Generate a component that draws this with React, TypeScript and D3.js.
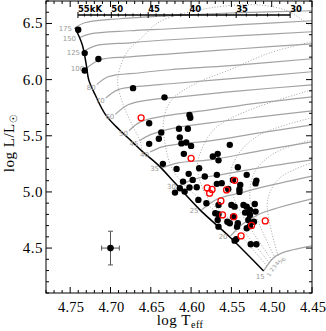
import * as d3 from "d3";

const WIDTH = 326;
const HEIGHT = 331;
const MARGIN = { top: 1, right: 14, bottom: 38, left: 46 };

const X_DOMAIN: [number, number] = [4.78, 4.45];
const Y_DOMAIN: [number, number] = [4.1, 6.7];
const X_TICK_LABELS = [4.75, 4.7, 4.65, 4.6, 4.55, 4.5, 4.45];
const Y_TICK_LABELS = [4.5, 5.0, 5.5, 6.0, 6.5];
const TEFF_KK_LABELS = [55, 50, 45, 40, 35, 30];

// zero-age main sequence (log Teff, log L)
const ZAMS: [number, number][] = [
  [4.744, 6.462], [4.735, 6.31], [4.73, 6.132], [4.727, 5.998], [4.719, 5.865],
  [4.706, 5.686], [4.689, 5.553], [4.673, 5.446], [4.66, 5.357], [4.641, 5.241],
  [4.619, 5.072], [4.589, 4.84], [4.552, 4.599], [4.51, 4.296],
];

const TRACK_MASSES = ["175", "150", "125", "100", "80", "70", "60", "50", "45", "40", "35", "30", "25", "20", "15"];
const TRACKS: [number, number][][] = [
  [[4.744, 6.462], [4.732, 6.506], [4.688, 6.542], [4.626, 6.569], [4.539, 6.596], [4.45, 6.613]],
  [[4.739, 6.373], [4.725, 6.408], [4.676, 6.435], [4.626, 6.453], [4.539, 6.489], [4.45, 6.524]],
  [[4.734, 6.248], [4.719, 6.301], [4.676, 6.328], [4.626, 6.355], [4.539, 6.391], [4.45, 6.426]],
  [[4.729, 6.105], [4.713, 6.177], [4.676, 6.203], [4.626, 6.23], [4.539, 6.275], [4.45, 6.319]],
  [[4.717, 5.955], [4.703, 6.025], [4.663, 6.061], [4.626, 6.088], [4.539, 6.132], [4.45, 6.186]],
  [[4.706, 5.835], [4.691, 5.909], [4.657, 5.945], [4.626, 5.963], [4.539, 6.016], [4.45, 6.07]],
  [[4.694, 5.69], [4.678, 5.776], [4.651, 5.82], [4.614, 5.847], [4.539, 5.9], [4.45, 5.954]],
  [[4.677, 5.545], [4.663, 5.624], [4.639, 5.669], [4.577, 5.731], [4.515, 5.793], [4.45, 5.847]],
  [[4.664, 5.455], [4.651, 5.508], [4.626, 5.562], [4.577, 5.615], [4.515, 5.669], [4.45, 5.722]],
  [[4.651, 5.355], [4.636, 5.401], [4.614, 5.428], [4.577, 5.455], [4.515, 5.526], [4.45, 5.597]],
  [[4.636, 5.214], [4.616, 5.259], [4.577, 5.285], [4.515, 5.366], [4.45, 5.446]],
  [[4.615, 5.054], [4.595, 5.116], [4.564, 5.152], [4.515, 5.214], [4.45, 5.285]],
  [[4.587, 4.84], [4.567, 4.938], [4.539, 4.991], [4.515, 5.036], [4.45, 5.14]],
  [[4.551, 4.608], [4.536, 4.715], [4.515, 4.804], [4.45, 4.938]],
  [[4.51, 4.296], [4.498, 4.412], [4.487, 4.457], [4.45, 4.519]],
];

const ISOCHRONE_AGES = ["1", "2", "3", "4", "5", "6"];
const ISOCHRONES: [number, number][][] = [
  [[4.51, 4.296], [4.552, 4.599], [4.589, 4.84], [4.619, 5.072], [4.641, 5.241], [4.66, 5.357],
    [4.663, 5.45], [4.672, 5.58], [4.685, 5.793], [4.691, 5.998], [4.68, 6.239], [4.66, 6.382],
    [4.639, 6.515], [4.589, 6.622], [4.527, 6.667], [4.484, 6.622], [4.45, 6.471]],
  [[4.506, 4.341], [4.544, 4.653], [4.579, 4.884], [4.606, 5.045], [4.624, 5.214], [4.632, 5.419],
    [4.634, 5.642], [4.624, 5.82], [4.595, 5.963], [4.552, 6.088], [4.502, 6.239], [4.45, 6.337]],
  [[4.503, 4.367], [4.539, 4.679], [4.57, 4.866], [4.585, 5.018], [4.592, 5.241], [4.583, 5.437],
    [4.568, 5.58], [4.527, 5.731], [4.45, 5.909]],
  [[4.5, 4.394], [4.529, 4.706], [4.546, 4.929], [4.552, 5.125], [4.542, 5.33], [4.515, 5.508], [4.45, 5.66]],
  [[4.496, 4.412], [4.515, 4.706], [4.527, 4.947], [4.521, 5.178], [4.496, 5.348], [4.45, 5.464]],
  [[4.492, 4.43], [4.502, 4.706], [4.505, 4.929], [4.49, 5.125], [4.45, 5.259]],
];

const STARS: [number, number][] = [
  [4.74, 6.444], [4.732, 6.236], [4.715, 6.183], [4.732, 6.081], [4.672, 5.924], [4.633, 5.842],
  [4.652, 5.612], [4.637, 5.529], [4.64, 5.473], [4.652, 5.428], [4.635, 5.25], [4.602, 5.686],
  [4.601, 5.66], [4.615, 5.562], [4.604, 5.562], [4.614, 5.486], [4.612, 5.432], [4.606, 5.44],
  [4.6, 5.41], [4.552, 5.419], [4.609, 5.339], [4.573, 5.315], [4.567, 5.339], [4.566, 5.281],
  [4.618, 5.205], [4.59, 5.211], [4.542, 5.22], [4.531, 5.152], [4.519, 5.101], [4.52, 5.076],
  [4.548, 5.107], [4.598, 5.107], [4.61, 5.092], [4.602, 5.039], [4.614, 5.033], [4.608, 5.003],
  [4.62, 4.994], [4.593, 5.042], [4.591, 4.929], [4.568, 5.072], [4.562, 5.078], [4.539, 5.063],
  [4.54, 5.024], [4.54, 5.0], [4.554, 5.027], [4.566, 4.884], [4.55, 4.884], [4.546, 4.869],
  [4.535, 4.884], [4.531, 4.869], [4.521, 4.893], [4.527, 4.84], [4.533, 4.816], [4.527, 4.795],
  [4.52, 4.825], [4.529, 4.751], [4.57, 4.81], [4.566, 4.801], [4.567, 4.751], [4.566, 4.691],
  [4.555, 4.735], [4.552, 4.721], [4.548, 4.78], [4.543, 4.691], [4.542, 4.721], [4.531, 4.677],
  [4.527, 4.697], [4.522, 4.735], [4.544, 4.579], [4.546, 4.566], [4.526, 4.534], [4.519, 4.534],
  [4.583, 5.137], [4.568, 5.152], [4.581, 4.899], [4.603, 5.161],
];

const STARS_RED: [number, number][] = [
  [4.662, 5.66], [4.6, 5.299], [4.546, 5.103], [4.58, 5.036], [4.574, 5.022], [4.577, 4.989],
  [4.556, 5.018], [4.563, 4.92], [4.561, 4.795], [4.547, 4.78], [4.525, 4.702], [4.508, 4.742],
  [4.538, 4.608],
];

const ERR_POINT: [number, number] = [4.7, 4.5];
const ERR_T = 0.011;
const ERR_L = 0.15;

const SERIF = "'Liberation Serif', 'Times New Roman', serif";
const SANS = "'DejaVu Sans', sans-serif";
const TRACK_COLOR = "#a3a3a3";

export default function App() {
  const x = d3.scaleLinear().domain(X_DOMAIN).range([MARGIN.left, WIDTH - MARGIN.right]);
  const y = d3.scaleLinear().domain(Y_DOMAIN).range([HEIGHT - MARGIN.bottom, MARGIN.top]);
  const line = d3
    .line<[number, number]>()
    .x((d) => x(d[0]))
    .y((d) => y(d[1]))
    .curve(d3.curveCatmullRom.alpha(0.5));

  const x0 = MARGIN.left;
  const x1 = WIDTH - MARGIN.right;
  const y0 = HEIGHT - MARGIN.bottom;
  const y1 = MARGIN.top;

  const xMinor = d3.range(445, 479).map((v) => ({ v: v / 100, major: v % 5 === 0 }));
  const yMinor = d3.range(41, 68).map((v) => ({ v: v / 10, major: v % 5 === 0 }));

  // secondary Teff axis in kK
  const kkY = 15;
  const kk = d3.range(30, 56).map((k) => ({ k, px: x(Math.log10(k * 1000)), major: k % 5 === 0 }));

  const [ex, ey] = ERR_POINT;

  return (
    <div style={{ position: "absolute", left: 0, top: 0 }}>
      <svg width={WIDTH} height={HEIGHT} style={{ display: "block", background: "#fff" }}>
        <defs>
          <clipPath id="plot">
            <rect x={x0} y={y1} width={x1 - x0} height={y0 - y1} />
          </clipPath>
        </defs>

        <g clipPath="url(#plot)">
          {ISOCHRONES.map((iso, i) => (
            <path key={"iso" + i} d={line(iso)!} fill="none" stroke="#9a9a9a" strokeWidth={0.9} strokeDasharray="1 1.8" />
          ))}
          {TRACKS.map((tr, i) => (
            <path key={"tr" + i} d={line(tr)!} fill="none" stroke={TRACK_COLOR} strokeWidth={1.2} />
          ))}
          <path d={line(ZAMS)!} fill="none" stroke="#000" strokeWidth={1.5} />
        </g>

        {TRACK_MASSES.map((m, i) => {
          const s = TRACKS[i][0];
          const last = i === TRACK_MASSES.length - 1;
          const inner = i >= 4 && i <= 9;
          return (
            <text
              key={"tl" + m}
              x={x(s[0]) - (last ? -1 : inner ? 1 : 3)}
              y={y(s[1]) + (last ? 8 : inner ? 5 : 3)}
              textAnchor="end"
              fontFamily={SANS}
              fontSize={7}
              fill="#999"
            >
              {m}
            </text>
          );
        })}

        {ISOCHRONE_AGES.map((a, i) => {
          const b = ISOCHRONES[i][0];
          return (
            <text
              key={"ia" + a}
              transform={`translate(${x(b[0]) + 6},${y(b[1]) + 6}) rotate(-60)`}
              fontFamily={SANS}
              fontSize={5.5}
              fill="#999"
            >
              {a}
            </text>
          );
        })}

        {STARS.map((d, i) => (
          <circle key={"s" + i} cx={x(d[0])} cy={y(d[1])} r={3.2} fill="#000" />
        ))}
        {STARS_RED.map((d, i) => (
          <circle key={"r" + i} cx={x(d[0])} cy={y(d[1])} r={3} fill="none" stroke="#ff0000" strokeWidth={1.3} />
        ))}

        {/* typical error bar */}
        <g stroke="#555" strokeWidth={1}>
          <line x1={x(ex + ERR_T)} x2={x(ex - ERR_T)} y1={y(ey)} y2={y(ey)} />
          <line x1={x(ex)} x2={x(ex)} y1={y(ey - ERR_L)} y2={y(ey + ERR_L)} />
          <line x1={x(ex) - 2.5} x2={x(ex) + 2.5} y1={y(ey - ERR_L)} y2={y(ey - ERR_L)} />
          <line x1={x(ex) - 2.5} x2={x(ex) + 2.5} y1={y(ey + ERR_L)} y2={y(ey + ERR_L)} />
          <line x1={x(ex + ERR_T)} x2={x(ex + ERR_T)} y1={y(ey) - 2.5} y2={y(ey) + 2.5} />
          <line x1={x(ex - ERR_T)} x2={x(ex - ERR_T)} y1={y(ey) - 2.5} y2={y(ey) + 2.5} />
        </g>
        <circle cx={x(ex)} cy={y(ey)} r={3.3} fill="#000" />

        {/* Teff in kK */}
        <g stroke="#000" strokeWidth={1}>
          <line x1={kk[kk.length - 1].px} x2={kk[0].px} y1={kkY} y2={kkY} strokeWidth={1.3} />
          {kk.map((t) => (
            <line key={"kk" + t.k} x1={t.px} x2={t.px} y1={t.major ? kkY - 3 : kkY - 1.5} y2={t.major ? kkY + 3 : kkY + 1.5} />
          ))}
        </g>
        {TEFF_KK_LABELS.map((k) => (
          <text
            key={"kkl" + k}
            x={x(Math.log10(k * 1000))}
            y={kkY - 3}
            fontFamily={SANS}
            fontSize={8.5}
            fontWeight="bold"
            fill="#000"
          >
            {k === 55 ? "55kK" : k}
          </text>
        ))}

        {/* frame and ticks */}
        <rect x={x0} y={y1} width={x1 - x0} height={y0 - y1} fill="none" stroke="#000" strokeWidth={1} />
        <g stroke="#000" strokeWidth={1}>
          {xMinor.map((t) => {
            const len = t.major ? 6 : 3;
            const px = x(t.v);
            return (
              <g key={"xt" + t.v}>
                <line x1={px} x2={px} y1={y0} y2={y0 - len} />
                <line x1={px} x2={px} y1={y1} y2={y1 + len} />
              </g>
            );
          })}
          {yMinor.map((t) => {
            const len = t.major ? 6 : 3;
            const py = y(t.v);
            return (
              <g key={"yt" + t.v}>
                <line x1={x0} x2={x0 + len} y1={py} y2={py} />
                <line x1={x1} x2={x1 - len} y1={py} y2={py} />
              </g>
            );
          })}
        </g>

        {X_TICK_LABELS.map((v) => (
          <text key={"xl" + v} x={x(v) + 1} y={y0 + 19} textAnchor="middle" fontFamily={SERIF} fontSize={14.5} letterSpacing={0.2}>
            {v.toFixed(2)}
          </text>
        ))}
        {Y_TICK_LABELS.map((v) => (
          <text key={"yl" + v} x={x0 - 3} y={y(v) + 5} textAnchor="end" fontFamily={SERIF} fontSize={15} letterSpacing={0.5}>
            {v.toFixed(1)}
          </text>
        ))}

        <text x={180} y={325} textAnchor="middle" fontFamily={SERIF} fontSize={15} letterSpacing={0.5}>
          log T<tspan dy={3} fontSize={10}>eff</tspan>
        </text>
        <text transform="translate(13.5,143) rotate(-90)" textAnchor="middle" fontFamily={SERIF} fontSize={15} letterSpacing={0.5}>
          log L/L<tspan dy={3} fontSize={10} fontFamily="'DejaVu Sans', sans-serif">☉</tspan>
        </text>
      </svg>
    </div>
  );
}
